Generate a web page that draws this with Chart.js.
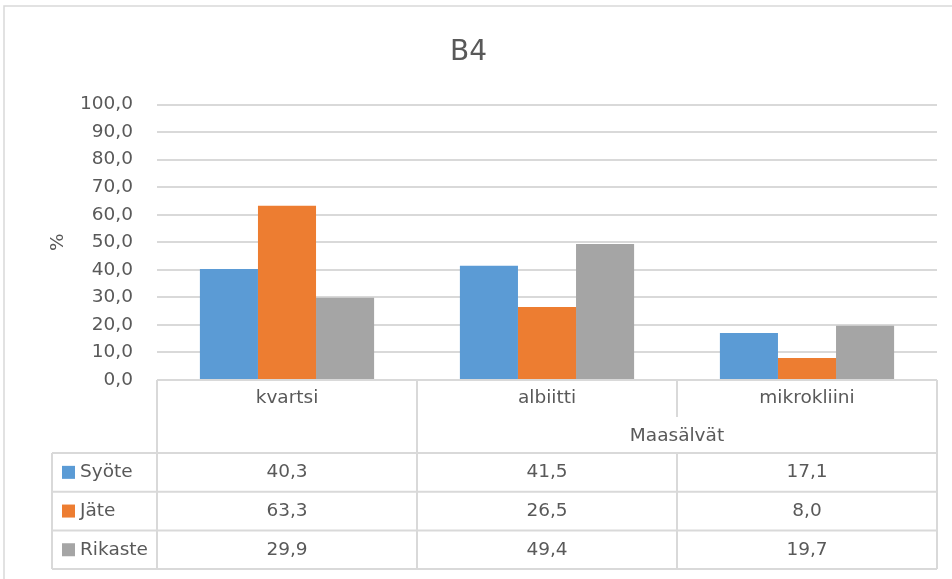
<!DOCTYPE html>
<html>
<head>
<meta charset="utf-8">
<script src="https://cdn.jsdelivr.net/npm/chart.js@4"></script>
<style>
  html, body { margin: 0; padding: 0; background: #fff; }
  #wrap { width: 952px; height: 579px; }
</style>
</head>
<body>
<div id="wrap"><canvas id="myChart" width="952" height="579"></canvas></div>
<script>
const categories = ["kvartsi", "albiitti", "mikrokliini"];
const groupLabel = "Maasälvät"; // spans albiitti + mikrokliini
const groupStart = 1;
const seriesNames = ["Syöte", "Jäte", "Rikaste"];
const syote = [40.3, 41.5, 17.1];
const jate = [63.3, 26.5, 8.0];
const rikaste = [29.9, 49.4, 19.7];
const colors = ["#5b9bd5", "#ed7d31", "#a5a5a5"];

const textColor = "#595959";
const lineColor = "#d9d9d9";
const fam = "'DejaVu Sans', sans-serif";

const fmt = (v) => v.toFixed(1).replace(".", ",");

// chart frame + data table under the axis
const tablePlugin = {
  id: "dataTable",
  beforeDraw(chart) {
    const c = chart.ctx;
    c.save();
    c.fillStyle = "#fff";
    c.fillRect(0, 0, chart.width, chart.height);
    c.strokeStyle = lineColor;
    c.lineWidth = 1.5;
    c.strokeRect(4, 6, chart.width + 10, chart.height + 10);
    c.restore();
  },
  afterDraw(chart) {
    const c = chart.ctx;
    const xs = chart.scales.x;
    const area = chart.chartArea;
    const n = categories.length;
    const cw = (area.right - area.left) / n;
    const top = area.bottom;
    const headBottom = top + 73;
    const rowH = 38.7;
    const legendLeft = 52;
    const bottom = headBottom + rowH * seriesNames.length;

    c.save();
    c.strokeStyle = lineColor;
    c.lineWidth = 2;
    const line = (x1, y1, x2, y2) => {
      c.beginPath();
      c.moveTo(x1, y1);
      c.lineTo(x2, y2);
      c.stroke();
    };
    // horizontal
    line(area.left, top, area.right, top);
    for (let r = 0; r <= seriesNames.length; r++) {
      const y = headBottom + r * rowH;
      line(legendLeft, y, area.right, y);
    }
    // vertical
    line(legendLeft, headBottom, legendLeft, bottom);
    for (let i = 0; i <= n; i++) {
      const x = area.left + i * cw;
      if (i > groupStart && i < n) {
        line(x, top, x, top + 37);
        line(x, headBottom, x, bottom);
      } else {
        line(x, top, x, bottom);
      }
    }

    c.fillStyle = textColor;
    c.font = "18.5px " + fam;
    c.textAlign = "center";
    c.textBaseline = "middle";
    categories.forEach((cat, i) => {
      c.fillText(cat, xs.getPixelForValue(i), top + 18);
    });
    const gx = (xs.getPixelForValue(groupStart) + xs.getPixelForValue(n - 1)) / 2;
    c.fillText(groupLabel, gx, top + 56);

    const series = [syote, jate, rikaste];
    series.forEach((vals, r) => {
      const y = headBottom + r * rowH + rowH / 2;
      vals.forEach((v, i) => {
        c.fillText(fmt(v), xs.getPixelForValue(i), y);
      });
      c.fillStyle = colors[r];
      c.fillRect(62, y - 6.5, 13, 13);
      c.fillStyle = textColor;
      c.textAlign = "left";
      c.fillText(seriesNames[r], 80, y);
      c.textAlign = "center";
    });
    c.restore();
  },
};

new Chart(document.getElementById("myChart"), {
  type: "bar",
  data: {
    labels: categories,
    datasets: seriesNames.map((name, i) => ({
      label: name,
      data: [syote, jate, rikaste][i],
      backgroundColor: colors[i],
      borderWidth: 0,
      categoryPercentage: 0.67,
      barPercentage: 1.0,
    })),
  },
  options: {
    responsive: false,
    animation: false,
    layout: {
      padding: { top: 0, left: 0, right: 15, bottom: 199 },
    },
    scales: {
      x: { display: false },
      y: {
        min: 0,
        max: 100,
        afterFit: (scale) => {
          scale.width = 157;
        },
        ticks: {
          stepSize: 10,
          padding: 24,
          color: textColor,
          font: { size: 18.5, family: fam },
          callback: (v) => fmt(v),
        },
        grid: { color: lineColor, lineWidth: 2, drawTicks: false },
        border: { display: false },
        title: {
          display: true,
          text: "%",
          color: textColor,
          font: { size: 18.5, family: fam },
          padding: { top: 47, bottom: 0 },
        },
      },
    },
    plugins: {
      legend: { display: false },
      tooltip: { enabled: false },
      title: {
        display: true,
        text: "B4",
        color: textColor,
        font: { size: 28, family: fam, weight: "normal" },
        padding: { top: 36, bottom: 35 },
      },
    },
  },
  plugins: [tablePlugin],
});
</script>
</body>
</html>
